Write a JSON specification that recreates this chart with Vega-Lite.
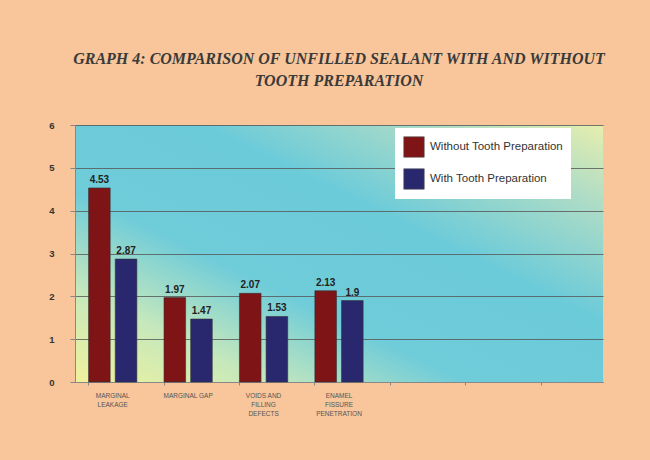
{
  "$schema": "https://vega.github.io/schema/vega-lite/v6.json",
  "autosize": {"type": "none"},
  "width": 528,
  "height": 257,
  "padding": {"left": 75, "top": 125, "right": 47, "bottom": 78},
  "background": "#f8c69a",
  "view": {
    "stroke": null,
    "fill": {
      "gradient": "linear",
      "x1": 0, "y1": 1, "x2": 1, "y2": 0,
      "stops": [
        {"offset": 0, "color": "#f0f29c"},
        {"offset": 0.18, "color": "#c6e8bc"},
        {"offset": 0.37, "color": "#6fccd9"},
        {"offset": 0.62, "color": "#6ccbd9"},
        {"offset": 0.84, "color": "#aedcc6"},
        {"offset": 1, "color": "#e6eeae"}
      ]
    }
  },
  "title": {
    "text": ["GRAPH 4: COMPARISON OF UNFILLED SEALANT WITH AND WITHOUT", "TOOTH PREPARATION"],
    "font": "Liberation Serif",
    "fontSize": 16,
    "fontStyle": "italic",
    "fontWeight": "bold",
    "color": "#3a3a3a",
    "lineHeight": 22,
    "anchor": "middle",
    "offset": 31
  },
  "data": {
    "values": [
      {"category": "MARGINAL|LEAKAGE", "group": "Without Tooth Preparation", "value": 4.53, "label": "4.53"},
      {"category": "MARGINAL|LEAKAGE", "group": "With Tooth Preparation", "value": 2.87, "label": "2.87"},
      {"category": "MARGINAL GAP", "group": "Without Tooth Preparation", "value": 1.97, "label": "1.97"},
      {"category": "MARGINAL GAP", "group": "With Tooth Preparation", "value": 1.47, "label": "1.47"},
      {"category": "VOIDS AND|FILLING|DEFECTS", "group": "Without Tooth Preparation", "value": 2.07, "label": "2.07"},
      {"category": "VOIDS AND|FILLING|DEFECTS", "group": "With Tooth Preparation", "value": 1.53, "label": "1.53"},
      {"category": "ENAMEL|FISSURE|PENETRATION", "group": "Without Tooth Preparation", "value": 2.13, "label": "2.13"},
      {"category": "ENAMEL|FISSURE|PENETRATION", "group": "With Tooth Preparation", "value": 1.9, "label": "1.9"}
    ]
  },
  "encoding": {
    "x": {
      "field": "category",
      "type": "nominal",
      "scale": {
        "domain": ["MARGINAL|LEAKAGE", "MARGINAL GAP", "VOIDS AND|FILLING|DEFECTS", "ENAMEL|FISSURE|PENETRATION", "_1", "_2", "_3"],
        "paddingInner": 0.36,
        "paddingOuter": 0.18
      },
      "axis": {
        "title": null,
        "labelAngle": 0,
        "labelExpr": "indexof(datum.value, '_') == 0 ? '' : split(datum.value, '|')",
        "labelFont": "Liberation Sans",
        "labelFontSize": 6.5,
        "labelColor": "#555555",
        "labelLineHeight": 9,
        "labelPadding": 7,
        "ticks": true,
        "tickSize": 3,
        "tickColor": "#888888",
        "bandPosition": 0,
        "domainColor": "#888888",
        "labelBaseline": "top"
      }
    },
    "xOffset": {
      "field": "group",
      "type": "nominal",
      "scale": {"domain": ["Without Tooth Preparation", "With Tooth Preparation"], "paddingInner": 0.19, "paddingOuter": 0}
    },
    "y": {
      "field": "value",
      "type": "quantitative",
      "scale": {"domain": [0, 6], "nice": false},
      "axis": {
        "title": null,
        "values": [0, 1, 2, 3, 4, 5, 6],
        "grid": true,
        "gridColor": "#555555",
        "gridWidth": 0.8,
        "domainColor": "#888888",
        "tickColor": "#888888",
        "tickSize": 5,
        "labelFont": "Liberation Sans",
        "labelFontSize": 9.5,
        "labelFontWeight": "bold",
        "labelColor": "#333333",
        "labelPadding": 16
      }
    }
  },
  "layer": [
    {
      "mark": {"type": "bar", "stroke": "#333333", "strokeWidth": 0.6},
      "encoding": {
        "color": {
          "field": "group",
          "type": "nominal",
          "scale": {"domain": ["Without Tooth Preparation", "With Tooth Preparation"], "range": ["#7e1416", "#29286f"]},
          "legend": {
            "title": null,
            "orient": "none",
            "legendX": 320,
            "legendY": 3,
            "fillColor": "#ffffff",
            "padding": 8,
            "symbolType": "square",
            "symbolSize": 420,
            "symbolStrokeColor": "#555555",
            "symbolStrokeWidth": 0.6,
            "symbolOpacity": 1,
            "labelFont": "Liberation Sans",
            "labelFontSize": 11.5,
            "labelColor": "#333333",
            "labelOffset": 5,
            "rowPadding": 8,
            "labelLimit": 300
          }
        }
      }
    },
    {
      "mark": {"type": "text", "dy": -8, "font": "Liberation Sans", "fontSize": 10, "fontWeight": "bold", "color": "#222222"},
      "encoding": {
        "text": {"field": "label", "type": "nominal"}
      }
    }
  ]
}
